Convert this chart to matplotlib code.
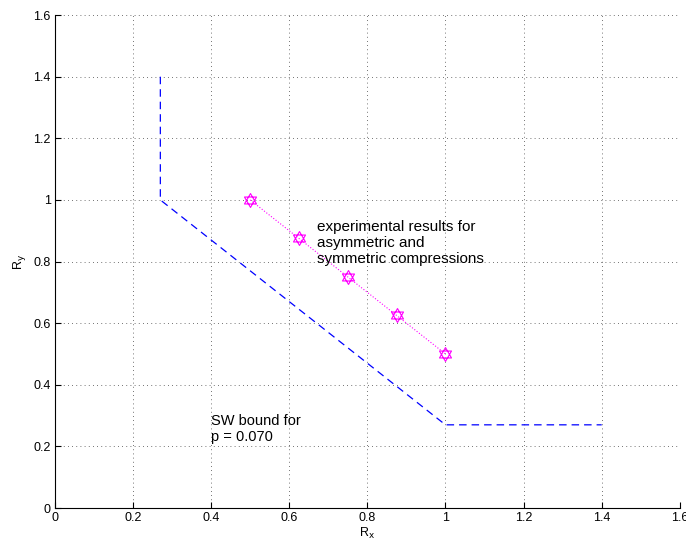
import numpy as np
import matplotlib.pyplot as plt
from matplotlib.path import Path

# SW bound (piecewise)
bound_x = [0.27, 0.27, 1.0, 1.4]
bound_y = [1.4, 1.0, 0.27, 0.27]

# experimental results
exp_x = [0.5, 0.625, 0.75, 0.875, 1.0]
exp_y = [1.0, 0.875, 0.75, 0.625, 0.5]

ticks = [0, 0.2, 0.4, 0.6, 0.8, 1, 1.2, 1.4, 1.6]
tick_labels = ['0', '0.2', '0.4', '0.6', '0.8', '1', '1.2', '1.4', '1.6']

plt.rcParams['font.family'] = ['Liberation Sans', 'DejaVu Sans']

# hexagram marker built from two triangles around the centre
ang_up = np.deg2rad([90, 210, 330, 90])
ang_dn = np.deg2rad([270, 30, 150, 270])
verts = list(zip(np.cos(ang_up), np.sin(ang_up))) + list(zip(np.cos(ang_dn), np.sin(ang_dn)))
codes = [Path.MOVETO, Path.LINETO, Path.LINETO, Path.CLOSEPOLY] * 2
hexagram = Path(verts, codes)

fig = plt.figure(figsize=(6.86, 5.39), dpi=100)
ax = fig.add_axes([0.080, 0.0575, 0.911, 0.9145])

ax.plot(bound_x, bound_y, color='#0000ff', linestyle=(0, (6, 4)), linewidth=0.9)
ax.plot(exp_x, exp_y, color='#ff00ff', linestyle=':', linewidth=0.8)
ax.plot(exp_x, exp_y, linestyle='none', marker=hexagram, markersize=10,
        markerfacecolor='none', markeredgecolor='#ff00ff', markeredgewidth=0.8)

ax.text(0.67, 0.935, 'experimental results for\nasymmetric and\nsymmetric compressions',
        fontsize=11, va='top', ha='left', linespacing=1.17)
ax.text(0.40, 0.305, 'SW bound for\np = 0.070', fontsize=10.5, va='top', ha='left',
        linespacing=1.15)

ax.set_xlim(0, 1.6)
ax.set_ylim(0, 1.6)
ax.set_xticks(ticks)
ax.set_xticklabels(tick_labels)
ax.set_yticks(ticks)
ax.set_yticklabels(tick_labels)
ax.tick_params(direction='in', length=4, labelsize=9, pad=3)
ax.grid(True, linestyle=(0, (1, 4)), color='#444444', linewidth=0.6)
ax.spines['top'].set_visible(False)
ax.spines['right'].set_visible(False)
ax.set_xlabel(r'R$_\mathrm{x}$', fontsize=9, labelpad=1)
ax.set_ylabel(r'R$_\mathrm{y}$', fontsize=9, labelpad=4)

fig.savefig('out.png', dpi=100)
